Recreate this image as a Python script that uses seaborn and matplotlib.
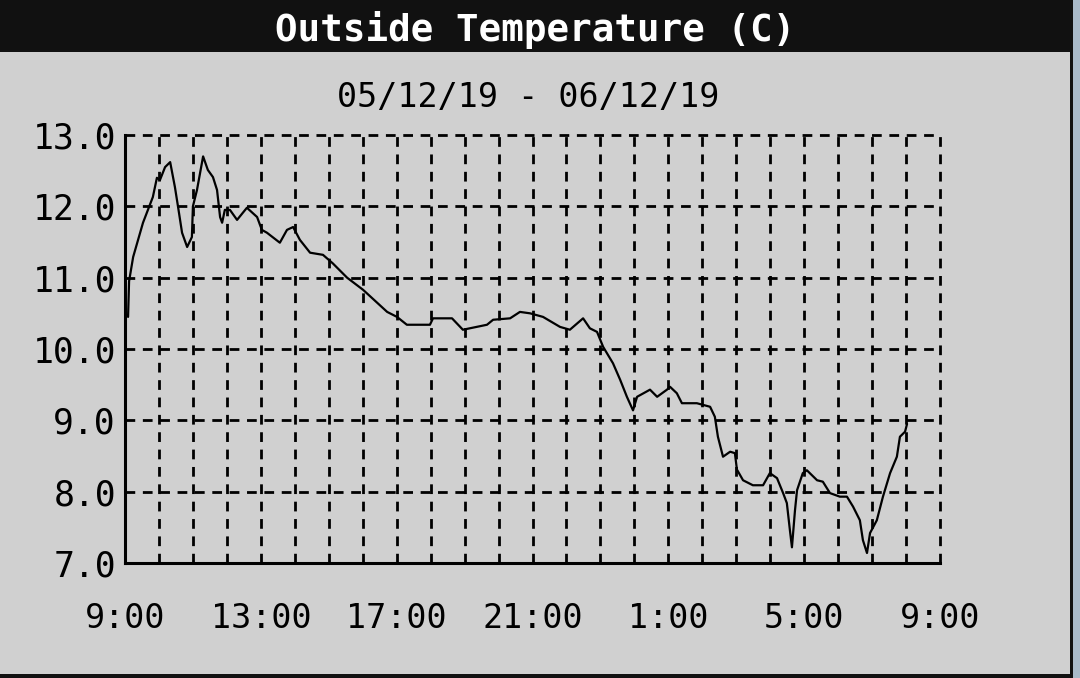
import numpy as np
import pandas as pd
import matplotlib
matplotlib.use('Agg')
import matplotlib.pyplot as plt
from matplotlib.patches import Rectangle
import seaborn as sns

# hours since 9:00 on 05/12/19
hours = [0.09, 0.12, 0.24, 0.53, 0.82, 0.94, 1.03, 1.18, 1.33, 1.47, 1.56, 1.68,
         1.83, 1.97, 2.00, 2.12, 2.30, 2.44, 2.59, 2.71, 2.80, 2.86, 2.94, 3.09,
         3.30, 3.59, 3.89, 4.03, 4.18, 4.56, 4.77, 4.95, 5.15, 5.45, 5.83, 6.12,
         6.54, 7.01, 7.72, 8.01, 8.30, 8.98, 9.07, 9.63, 9.95, 10.66, 10.84, 11.34,
         11.63, 11.93, 12.31, 12.81, 13.10, 13.49, 13.69, 13.90, 14.08, 14.37, 14.58,
         14.78, 14.96, 15.08, 15.46, 15.67, 15.96, 16.05, 16.25, 16.40, 16.84, 17.23,
         17.37, 17.46, 17.61, 17.82, 17.96, 18.02, 18.20, 18.49, 18.79, 18.99, 19.20,
         19.38, 19.49, 19.58, 19.64, 19.73, 19.79, 19.96, 20.08, 20.38, 20.55, 20.76,
         21.05, 21.26, 21.44, 21.64, 21.73, 21.85, 21.94, 22.14, 22.32, 22.53, 22.73,
         22.82, 22.97, 23.03]
temps = [10.45, 10.95, 11.29, 11.77, 12.13, 12.40, 12.37, 12.55, 12.62, 12.27, 12.00, 11.63,
         11.43, 11.57, 12.00, 12.23, 12.70, 12.51, 12.41, 12.23, 11.85, 11.77, 11.95, 11.95,
         11.81, 11.98, 11.85, 11.67, 11.63, 11.49, 11.67, 11.71, 11.53, 11.35, 11.32, 11.20,
         11.00, 10.83, 10.52, 10.45, 10.34, 10.34, 10.43, 10.43, 10.27, 10.34, 10.41, 10.43,
         10.52, 10.50, 10.45, 10.31, 10.27, 10.43, 10.29, 10.24, 10.03, 9.80, 9.57,
         9.33, 9.14, 9.33, 9.43, 9.33, 9.43, 9.47, 9.38, 9.24, 9.24, 9.19,
         9.05, 8.77, 8.49, 8.56, 8.54, 8.31, 8.16, 8.09, 8.09, 8.26, 8.19,
         7.98, 7.84, 7.46, 7.22, 7.74, 8.02, 8.26, 8.30, 8.16, 8.14, 7.98,
         7.93, 7.93, 7.79, 7.60, 7.32, 7.14, 7.42, 7.60, 7.93, 8.26, 8.49,
         8.77, 8.84, 8.95]

tick_hours = [0, 4, 8, 12, 16, 20, 24]
tick_labels = ['9:00', '13:00', '17:00', '21:00', '1:00', '5:00', '9:00']
y_ticks = [7.0, 8.0, 9.0, 10.0, 11.0, 12.0, 13.0]

title = 'Outside Temperature (C)'
subtitle = '05/12/19 - 06/12/19'

bg = '#d0d0d0'
sns.set_style('white', rc={'axes.facecolor': bg, 'figure.facecolor': bg})
plt.rcParams['font.family'] = ['DejaVu Sans Mono', 'DejaVu Sans']
plt.rcParams['lines.scale_dashes'] = False

W, H = 1080, 678
fig = plt.figure(figsize=(W / 100, H / 100), dpi=100)

# frame: black title bar, dark right/bottom border, bluish strip
fig.patches.append(Rectangle((0, 0), 1, 1, transform=fig.transFigure,
                             facecolor='#a9bac9', edgecolor='none', zorder=-3))
fig.patches.append(Rectangle((0, 0), 1073 / W, 1, transform=fig.transFigure,
                             facecolor='#111111', edgecolor='none', zorder=-2))
fig.patches.append(Rectangle((0, (H - 674) / H), 1070 / W, (674 - 52) / H,
                             transform=fig.transFigure,
                             facecolor=bg, edgecolor='none', zorder=-1))

fig.text(535 / W, 1 - 30 / H, title, color='white', fontsize=27,
         fontweight='bold', ha='center', va='center')
fig.text(528 / W, 1 - 98 / H, subtitle, color='black', fontsize=24,
         ha='center', va='center')

ax = fig.add_axes([125 / W, (H - 563) / H, 815 / W, (563 - 135) / H])
ax.set_facecolor(bg)

df = pd.DataFrame({'hours': hours, 'temp': temps})
sns.lineplot(data=df, x='hours', y='temp', color='black', linewidth=1.6, ax=ax)

ax.set_xlim(0, 24)
ax.set_ylim(7.0, 13.0)
ax.set_xticks(tick_hours)
ax.set_xticklabels(tick_labels)
ax.set_xticks(np.arange(0, 25, 1), minor=True)
ax.set_yticks(y_ticks)
ax.set_yticklabels([f'{v:.1f}' for v in y_ticks])
ax.set_xlabel('')
ax.set_ylabel('')

dash = (0, (7, 5.5))
ax.grid(which='both', axis='x', color='black', linestyle=dash, linewidth=2.0)
ax.grid(which='major', axis='y', color='black', linestyle=dash, linewidth=2.0)
ax.set_axisbelow(True)

# let the grid lines on the top/right limits show at full width
for t in ax.xaxis.get_major_ticks() + ax.xaxis.get_minor_ticks() + ax.yaxis.get_major_ticks():
    t.gridline.set_clip_on(False)

for s in ['top', 'right']:
    ax.spines[s].set_visible(False)
for s in ['left', 'bottom']:
    ax.spines[s].set_color('black')
    ax.spines[s].set_linewidth(2.2)

ax.tick_params(axis='x', which='major', direction='out', length=16, width=2.0,
               color='black', labelcolor='black', labelsize=24, pad=12)
ax.tick_params(axis='x', which='minor', length=0)
ax.tick_params(axis='y', direction='inout', length=11, width=2.0,
               color='black', labelcolor='black', labelsize=25, pad=1)

fig.savefig('out.png', dpi=100, facecolor=fig.get_facecolor())
